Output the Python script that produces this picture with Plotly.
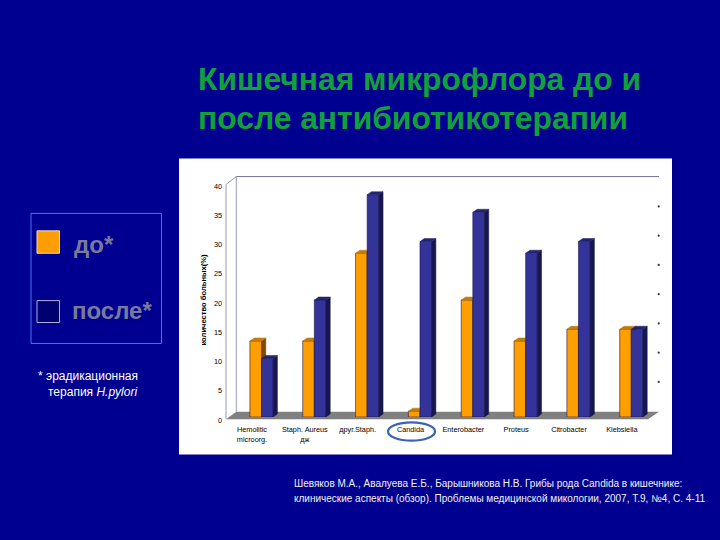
import plotly.graph_objects as go

categories = ["Hemolitic<br>microorg.", "Staph. Aureus<br>дж", "друг.Staph.", "Candida",
              "Enterobacter", "Proteus", "Citrobacter", "Klebsiella"]
before = [13, 13, 28, 1, 20, 13, 15, 15]
after = [10, 20, 38, 30, 35, 28, 30, 15]
y_ticks = [0, 5, 10, 15, 20, 25, 30, 35, 40]

NAVY = "#000090"
ORANGE, ORANGE_TOP, ORANGE_SIDE = "#ff9e00", "#c07c10", "#7a4a00"
BLUE, BLUE_TOP, BLUE_SIDE = "#333399", "#24246e", "#17174f"
GREEN = "#12a03a"

W, H = 720, 540
L, R, T, B = 226, 664, 182.5, 417.3      # pixel box of the axes
UX = 52.83                                # pixels per category
UY = (B - T) / 40
XMIN = (L - 252) / UX
XMAX = (R - 252) / UX
DOT_X = (658.7 - 252) / UX
SHIFT = 9.5 / UX
BW = 11.6 / UX
DX, DY = 4.3 / UX, 3.0 / UY


def px(x):
    return (x - L) / (R - L)


def py(y):
    return (B - y) / (B - T)


def poly(points, fill, line=None, layer="below"):
    d = "M" + " L".join(f"{px(a):.4f},{py(b):.4f}" for a, b in points) + " Z"
    return dict(type="path", xref="paper", yref="paper", path=d, fillcolor=fill,
                line=dict(color=line or fill, width=1 if line else 0), layer=layer)


def seg(x0, y0, x1, y1, color, width=1):
    return dict(type="line", xref="paper", yref="paper", x0=px(x0), y0=py(y0), x1=px(x1), y1=py(y1),
                line=dict(color=color, width=width), layer="below")


def rect(x0, y0, x1, y1, fill, line, width=1, layer="below"):
    return dict(type="rect", xref="paper", yref="paper", x0=px(x0), y0=py(y0), x1=px(x1), y1=py(y1),
                fillcolor=fill, line=dict(color=line, width=width), layer=layer)


def faces(x_left, x_right, vals):
    sx, sy, tx, ty = [], [], [], []
    for i, v in enumerate(vals):
        a, b = i + x_left, i + x_right
        sx += [b, b + DX, b + DX, b, b, None]
        sy += [0, DY, v + DY, v, 0, None]
        tx += [a, b, b + DX, a + DX, a, None]
        ty += [v, v, v + DY, v + DY, v, None]
    return sx, sy, tx, ty


fig = go.Figure()
xs = list(range(len(categories)))


def add_series(name, vals, left, color, top, side, xa, ya):
    fig.add_bar(x=xs, y=vals, width=BW, offset=left, name=name, xaxis=xa, yaxis=ya,
                marker=dict(color=color, line=dict(color="#1a1a50", width=0.6)), showlegend=False)
    sx, sy, tx, ty = faces(left, left + BW, vals)
    for fx, fy, c in ((sx, sy, side), (tx, ty, top)):
        fig.add_scatter(x=fx, y=fy, fill="toself", fillcolor=c, mode="lines", xaxis=xa, yaxis=ya,
                        line=dict(color=c, width=0.5), showlegend=False, hoverinfo="skip")


add_series("до", before, SHIFT - BW, ORANGE, ORANGE_TOP, ORANGE_SIDE, "x", "y")
add_series("после", after, SHIFT, BLUE, BLUE_TOP, BLUE_SIDE, "x2", "y2")

# remnants of the dashed grid at the right end of the back wall
fig.add_scatter(x=[DOT_X] * 7, y=[v + 1.0 for v in y_ticks[1:-1]], mode="markers", cliponaxis=False,
                marker=dict(color="#333355", size=2.2, line=dict(width=0)), showlegend=False, hoverinfo="skip")

shapes = [
    rect(179, 158, 672, 455, "white", "white", 0),
    poly([(226, 419.5), (236.3, 412), (659, 412), (648, 419.5)], "#808080"),
    seg(236.3, 176, 236.3, 412, "#9a9ab4"),
    seg(226, 184, 226, 419.5, "#9a9ab4"),
    seg(226, 184, 236.3, 176, "#9a9ab4"),
    seg(236.3, 176, 659, 176, "#77779c"),
    rect(31, 213, 161.5, 343.5, NAVY, "#4d6ef0", 1),
    rect(37, 230.5, 59.5, 253, ORANGE, "#f0d8c0", 1),
    rect(37, 300.5, 59.5, 322.5, "#000070", "#b0b0e0", 1),
    dict(type="circle", xref="paper", yref="paper", x0=px(388), y0=py(422.7), x1=px(435), y1=py(441),
         line=dict(color="#3c64b4", width=2.2), fillcolor="rgba(0,0,0,0)", layer="above"),
]


def note(x, y, text, size, color, bold=False):
    return dict(xref="paper", yref="paper", x=px(x), y=py(y), text=f"<b>{text}</b>" if bold else text,
                showarrow=False, xanchor="left", yanchor="middle", align="left",
                font=dict(family="Liberation Sans", size=size, color=color))


annotations = [
    note(196, 78, "Кишечная микрофлора до и", 31.8, GREEN, True),
    note(196, 117, "после антибиотикотерапии", 31.8, GREEN, True),
    note(72, 244, "до*", 24, "#7a7a9c", True),
    note(70, 310, "после*", 24, "#7a7a9c", True),
    note(36, 376, "* эрадикационная", 12, "white"),
    note(46, 392, "терапия <i>H.pylori</i>", 12, "white"),
    note(292, 484, "Шевяков М.А., Авалуева Е.Б., Барышникова Н.В. Грибы рода Candida в кишечнике:", 10, "#f2f2f2"),
    note(292, 499, "клинические аспекты (обзор). Проблемы медицинской микологии, 2007, Т.9, №4, С. 4-11", 10, "#f2f2f2"),
]

fig.update_layout(
    width=W, height=H, paper_bgcolor=NAVY, plot_bgcolor="rgba(0,0,0,0)",
    margin=dict(l=L, r=W - R, t=T, b=H - B, pad=0), barmode="overlay", showlegend=False,
    shapes=shapes, annotations=annotations,
    xaxis=dict(range=[XMIN, XMAX], tickmode="array", tickvals=xs, ticktext=categories, showgrid=False,
               zeroline=False, showline=False, ticks="", ticklabelstandoff=7,
               tickfont=dict(family="Liberation Sans", size=7.3, color="#000000")),
    yaxis=dict(range=[0, 40], tickmode="array", tickvals=y_ticks, showgrid=False, zeroline=False,
               showline=False, ticks="", ticklabelstandoff=3, ticklabelshift=3,
               tickfont=dict(family="Liberation Sans", size=7.3, color="#000000"),
               title=dict(text="<b>количество больных(%)</b>", standoff=6,
                          font=dict(family="Liberation Sans", size=7.6, color="#000000"))),
    xaxis2=dict(range=[XMIN, XMAX], overlaying="x", anchor="y2", visible=False),
    yaxis2=dict(range=[0, 40], overlaying="y", anchor="x2", visible=False),
)

fig.write_html("out.html", config=dict(displayModeBar=False), post_script="document.body.style.margin='0';")
